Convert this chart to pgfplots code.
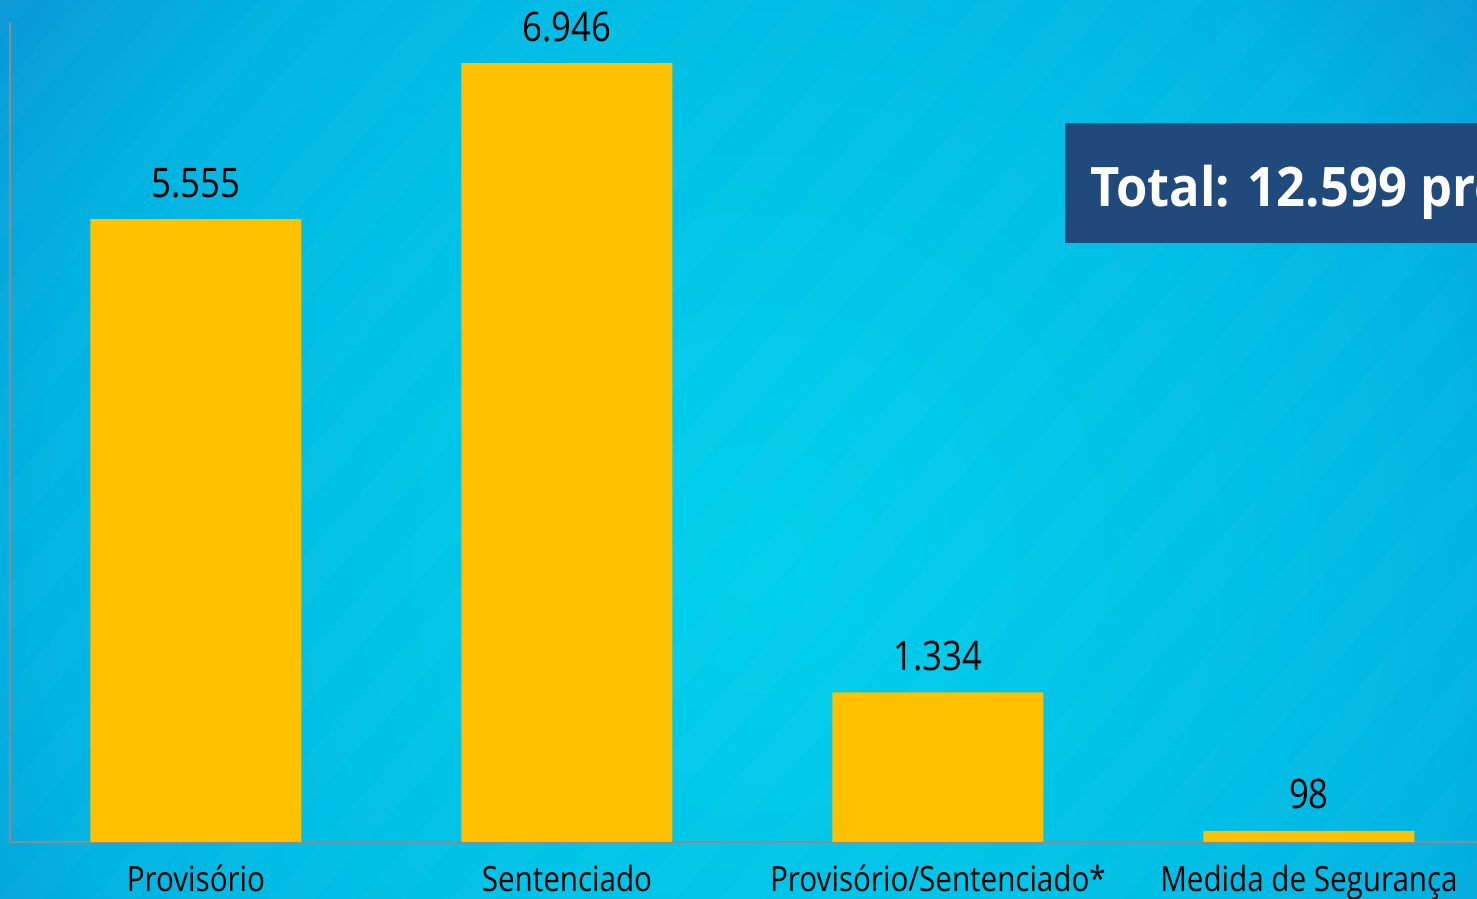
\documentclass[border=0pt]{standalone}
\usepackage{pgfplots}
\pgfplotsset{compat=1.18}
\usepackage{fontspec}
\setmainfont{Open Sans}[FakeStretch=0.85]
\newfontfamily\boxfont{Open Sans}[FakeStretch=0.93]
\definecolor{barc}{HTML}{FFC000}
\definecolor{boxc}{HTML}{214A7C}
\definecolor{axc}{HTML}{8C8C8C}
\definecolor{bgA}{HTML}{00D0EC}
\definecolor{bgB}{HTML}{00BEE5}
\definecolor{bgBB}{HTML}{00B2E1}
\definecolor{bgC}{HTML}{0A96D8}
\pgfdeclareradialshading{bgshade}{\pgfpoint{0bp}{0bp}}{color(0bp)=(bgA); color(13.5bp)=(bgB); color(18.5bp)=(bgBB); color(24bp)=(bgC); color(50bp)=(bgC)}
\begin{document}
\begin{tikzpicture}[x=1cm,y=1cm]
\useasboundingbox (0,0) rectangle (14.77,8.99);
\clip (0,0) rectangle (14.77,8.99);
\fill[bgC] (0,0) rectangle (14.77,8.99);
\shade[shading=bgshade] (7.6,3.4) circle (10);
\foreach \i in {-12,...,16} {
  \fill[white, opacity=0.02] (\i*0.9,0) -- ++(0.45,0) -- ++(8,9) -- ++(-0.45,0) -- cycle;
}
\begin{axis}[
  at={(0.1cm,0.57cm)}, anchor=south west,
  scale only axis, width=14.67cm, height=8.2cm,
  xmin=-0.5013, xmax=3.453, ymin=0, ymax=7312,
  axis x line=bottom, axis y line=left,
  axis line style={axc, line width=0.8pt, -},
  ytick=\empty, xtick=data,
  xticklabels={Provisório, Sentenciado, Provisório/Sentenciado*, Medida de Segurança},
  major tick length=0pt,
  xticklabel style={font=\fontsize{9.9}{12}\selectfont, anchor=base, yshift=-5mm, text=black},
  ybar, bar width=2.11cm, bar shift=0pt,
  point meta=explicit symbolic,
  nodes near coords,
  nodes near coords style={font=\fontsize{11.6}{13}\selectfont, anchor=base, yshift=2.2mm, text=black},
]
\addplot[fill=barc, draw=none] coordinates {
  (0,5555) [5.555]
  (1,6946) [6.946]
  (2,1334) [1.334]
  (3,98) [98]
};
\end{axis}
\fill[boxc] (10.65,6.56) rectangle (15.5,7.76);
\node[anchor=base west, inner sep=0pt, text=white, font=\boxfont\bfseries\fontsize{15.5}{18}\selectfont] at (10.90,6.92) {Total: 12.599 presos};
\end{tikzpicture}
\end{document}
